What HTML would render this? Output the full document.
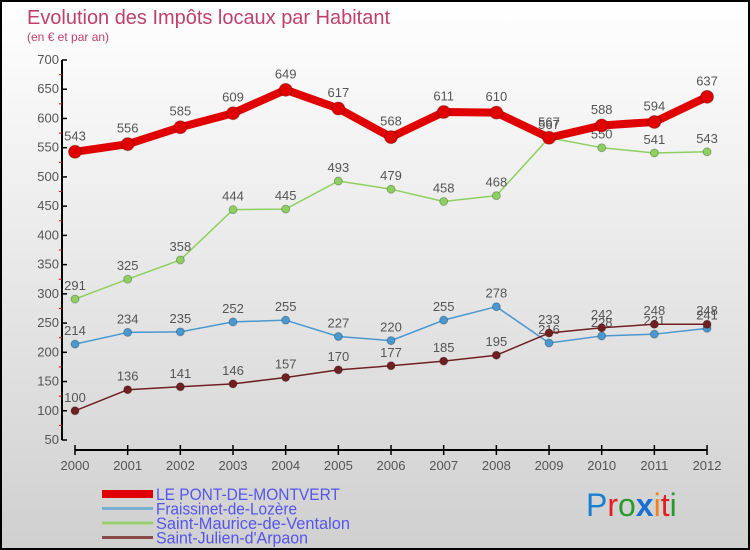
<!DOCTYPE html>
<html><head><meta charset="utf-8"><style>
body{margin:0;}
#c{width:746px;height:546px;border:2px solid #000;background:linear-gradient(#fff,#d0d0d0);position:relative;font-family:"Liberation Sans",sans-serif;overflow:hidden}
</style></head><body>
<div id="c">
<svg id="s" width="746" height="546" style="position:absolute;left:0;top:0">
<text x="25" y="22" font-size="20" fill="#c0406a" textLength="363" lengthAdjust="spacingAndGlyphs">Evolution des Impôts locaux par Habitant</text>
<text x="25" y="39" font-size="12" fill="#c0406a">(en € et par an)</text>
<g id="axes"></g><g id="series"></g><g id="legend"></g>
<text x="584" y="514" font-size="32" font-family="Liberation Sans,sans-serif"><tspan fill="#1a7fd0">P</tspan><tspan fill="#e02020">r</tspan><tspan fill="#2a9a30">o</tspan><tspan fill="#1a6fd0" font-weight="bold">x</tspan><tspan fill="#f08020">i</tspan><tspan fill="#e02020">t</tspan><tspan fill="#2a9a30">i</tspan></text>
</svg></div>
<script>
const years=[2000,2001,2002,2003,2004,2005,2006,2007,2008,2009,2010,2011,2012];
const yTicks=[50,100,150,200,250,300,350,400,450,500,550,600,650,700];
const pont=[543,556,585,609,649,617,568,611,610,567,588,594,637];
const fraissinet=[214,234,235,252,255,227,220,255,278,216,228,231,241];
const maurice=[291,325,358,444,445,493,479,458,468,567,550,541,543];
const julien=[100,136,141,146,157,170,177,185,195,233,242,248,248];
const NS="http://www.w3.org/2000/svg";
const X=i=>73+i*52.67, Y=v=>58+(700-v)*380/650;
function mk(t,a,p){const e=document.createElementNS(NS,t);for(const k in a)e.setAttribute(k,a[k]);p.appendChild(e);return e;}
const ax=document.getElementById('axes');
let yl=mk('line',{x1:60,y1:58,x2:60,y2:438,stroke:'#000','stroke-width':2},ax);


yTicks.forEach(v=>{
 mk('line',{x1:60,x2:65,y1:Y(v),y2:Y(v),stroke:'#000','stroke-width':1.5},ax);
 if(v<700)mk('line',{x1:57,x2:60,y1:Y(v+25),y2:Y(v+25),stroke:'#e00','stroke-width':1},ax);
 const t=mk('text',{x:57,y:Y(v)+4,'text-anchor':'end','font-size':13,fill:'#555'},ax);t.textContent=v;
 
 
});
let xl=mk('line',{x1:73,y1:448,x2:705,y2:448,stroke:'#000','stroke-width':2},ax);


years.forEach((y,i)=>{
 mk('line',{x1:X(i),x2:X(i),y1:443,y2:453,stroke:'#000','stroke-width':1.5},ax);
 const t=mk('text',{x:X(i),y:468,'text-anchor':'middle','font-size':13,fill:'#555'},ax);t.textContent=y;
 
 
});
const sg=document.getElementById('series');
function series(vals,color,w,r,name){
 const g=mk('g',{},sg);
 
 
 mk('polyline',{points:vals.map((v,i)=>X(i)+','+Y(v)).join(' '),fill:'none',stroke:color,'stroke-width':w,'stroke-linejoin':'round'},g);
 vals.forEach((v,i)=>{
  const c=mk('circle',{cx:X(i),cy:Y(v),r:r,fill:color,stroke:'rgba(0,0,0,0.25)'},g);
  
  
  const t=mk('text',{x:X(i),y:Y(v)-(r+5),'text-anchor':'middle','font-size':13,fill:'#555'},g);t.textContent=v;
  
  
 });
}
series(fraissinet,'#4a98d0',1.5,4,'fraissinet');
series(maurice,'#8ed060',1.5,4,'saint-maurice');
series(julien,'#702020',1.5,4,'saint-julien');
series(pont,'#e00000',8,6.5,'pont-de-montvert');
const lg=document.getElementById('legend');
[['LE PONT-DE-MONTVERT','#e00000',8,184],['Fraissinet-de-Lozère','#7aaed0',3,141],['Saint-Maurice-de-Ventalon','#98d070',3,194],['Saint-Julien-d\'Arpaon','#8a4a4a',3,152]].forEach((l,i)=>{
 const y=492+i*14.5;
 const ln=mk('line',{x1:100,x2:151,y1:y,y2:y,stroke:l[1],'stroke-width':l[2]},lg);
 
 
 const t=mk('text',{x:154,y:y+6,'font-size':17,fill:'#5555ee',textLength:l[3],lengthAdjust:'spacingAndGlyphs'},lg);t.textContent=l[0];
 
 
});
</script></body></html>
